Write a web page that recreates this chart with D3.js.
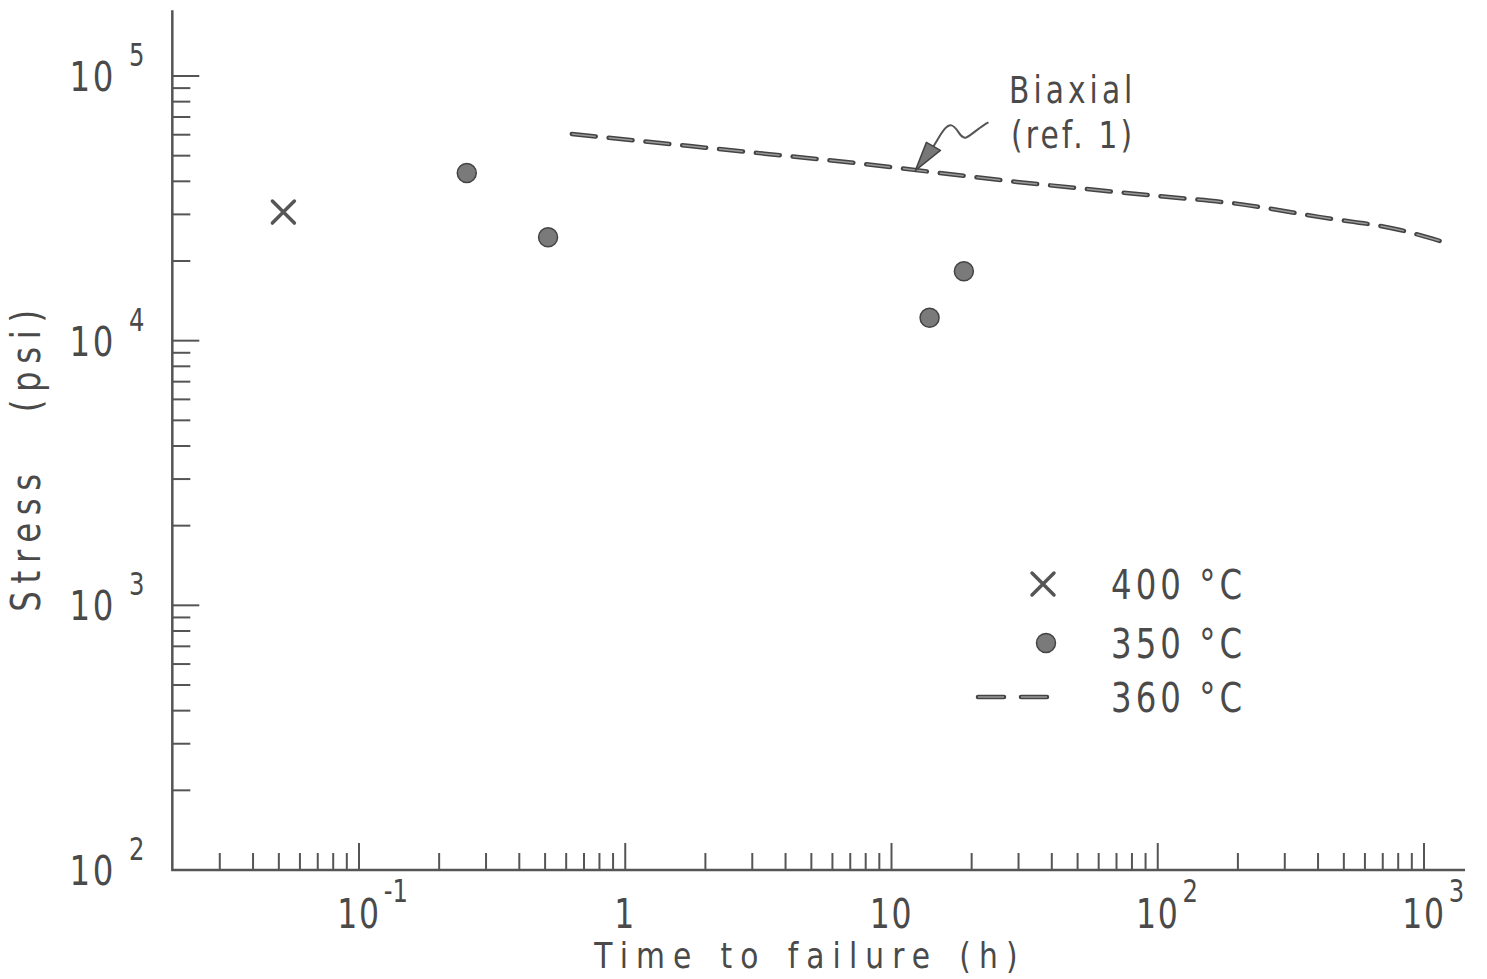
<!DOCTYPE html>
<html>
<head>
<meta charset="utf-8">
<script src="https://cdn.jsdelivr.net/npm/d3@7"></script>
<style>
  body { margin: 0; background: #fff; }
  text { font-family: "DejaVu Sans", sans-serif; fill: #4a4a4a; }
</style>
</head>
<body>
<svg class="chart"></svg>
<script>
// data
var crossTime = [0.052];                        // 400 °C
var crossStress = [30600];
var dotTime = [0.254, 0.513, 13.9, 18.7];       // 350 °C
var dotStress = [43000, 24600, 12200, 18300];
var biaxTime = [0.63, 2, 7.3, 29.6, 100, 204, 407, 813, 1150];        // 360 °C, biaxial (ref. 1)
var biaxStress = [60400, 53600, 46900, 39800, 35200, 32800, 29300, 26200, 23800];

// tick labels
var xTickValues = [0.1, 1, 10, 100, 1000];
var xTickBase = ["10", "1", "10", "10", "10"];
var xTickExp = ["-1", "", "", "2", "3"];
var yTickValues = [100, 1000, 10000, 100000];
var yTickBase = ["10", "10", "10", "10"];
var yTickExp = ["2", "3", "4", "5"];

var legendLabels = ["400 °C", "350 °C", "360 °C"];

var width = 1487, height = 979;
var ink = "#555";
var sx = 0.9, sy = 1.15;   // lettering is a bit narrow and tall

// scales
var x = d3.scaleLog().domain([0.1, 1000]).range([359, 1424]);
var y = d3.scaleLog().domain([100, 100000]).range([870, 76]);
var xMin = 0.0199, xMax = 1426, yMax = 177000;

var chart = d3.select(".chart")
  .attr("width", width)
  .attr("height", height);

// text helper, squeezed lettering
function label(px, py, str, size, anchor, ls, ws, rot, vy) {
  return chart.append("text")
    .attr("transform", "translate(" + px + "," + py + ")" + (rot ? " rotate(" + rot + ")" : "") +
                       " scale(" + sx + "," + (vy || sy) + ")")
    .attr("text-anchor", anchor || "start")
    .style("font-size", size + "px")
    .style("letter-spacing", (ls || 0) + "px")
    .style("word-spacing", (ws || 0) + "px")
    .text(str);
}

// axes frame (left and bottom only)
chart.append("path")
  .attr("d", "M" + x(xMin) + "," + y(yMax) + "V" + y(100) + "H" + x(xMax))
  .attr("fill", "none")
  .attr("stroke", ink)
  .attr("stroke-width", 2.5);

// minor and major ticks
var xTicks = [], yTicks = [];
[0.01, 0.1, 1, 10, 100, 1000].forEach(function(d) {
  for (var k = 1; k < 10; k++) {
    var v = d * k;
    if (v > 0.025 && v <= xMax) xTicks.push({v: v, major: k === 1});
  }
});
[100, 1000, 10000, 100000].forEach(function(d) {
  for (var k = 1; k < 10; k++) {
    var v = d * k;
    if (v > 100 && v <= yMax) yTicks.push({v: v, major: k === 1});
  }
});

chart.append("g").selectAll("line")
  .data(xTicks)
  .enter().append("line")
  .attr("x1", function(d) { return x(d.v); })
  .attr("x2", function(d) { return x(d.v); })
  .attr("y1", y(100))
  .attr("y2", function(d) { return y(100) - (d.major ? 27 : 17); })
  .attr("stroke", ink)
  .attr("stroke-width", 2);

chart.append("g").selectAll("line")
  .data(yTicks)
  .enter().append("line")
  .attr("y1", function(d) { return y(d.v); })
  .attr("y2", function(d) { return y(d.v); })
  .attr("x1", x(xMin))
  .attr("x2", function(d) { return x(xMin) + (d.major ? 27 : 18); })
  .attr("stroke", ink)
  .attr("stroke-width", 2);

// x tick labels: base centred on tick, exponent to the right
xTickValues.forEach(function(v, i) {
  var base = label(x(v), 928, xTickBase[i], 35, "middle", 2);
  if (xTickExp[i]) {
    var w = base.node().getComputedTextLength() * sx;
    label(x(v) + w / 2 + 3, 902, xTickExp[i], 27);
  }
});

// y tick labels
yTickValues.forEach(function(v, i) {
  label(116, y(v) + 15, yTickBase[i], 36, "end", 3);
  label(129, y(v) - 10, yTickExp[i], 27);
});

// axis titles
label(810, 968, "Time to failure (h)", 33, "middle", 9, 4, 0, 1.1);
label(40, 457, "Stress (psi)", 36, "middle", 8.5, 40, -90);

// biaxial dashed curve, dark rim with lighter core
var line = d3.line()
  .x(function(d) { return x(d[0]); })
  .y(function(d) { return y(d[1]); })
  .curve(d3.curveMonotoneX);

var biax = d3.zip(biaxTime, biaxStress);
chart.append("path")
  .datum(biax)
  .attr("d", line)
  .attr("fill", "none")
  .attr("stroke", "#444")
  .attr("stroke-width", 4.5)
  .attr("stroke-linecap", "round")
  .attr("stroke-dasharray", "24,13");
chart.append("path")
  .datum(biax)
  .attr("d", line)
  .attr("fill", "none")
  .attr("stroke", "#9a9a9a")
  .attr("stroke-width", 1.5)
  .attr("stroke-dasharray", "24,13");

// 400 °C crosses
function cross(cx, cy, s) {
  chart.append("path")
    .attr("d", "M" + (cx - s) + "," + (cy - s) + "L" + (cx + s) + "," + (cy + s) +
               "M" + (cx - s) + "," + (cy + s) + "L" + (cx + s) + "," + (cy - s))
    .attr("stroke", ink)
    .attr("stroke-width", 3.5)
    .attr("stroke-linecap", "round");
}
d3.zip(crossTime, crossStress).forEach(function(d) {
  cross(x(d[0]), y(d[1]), 11);
});

// 350 °C dots
chart.append("g").selectAll("circle")
  .data(d3.zip(dotTime, dotStress))
  .enter().append("circle")
  .attr("cx", function(d) { return x(d[0]); })
  .attr("cy", function(d) { return y(d[1]); })
  .attr("r", 9.5)
  .attr("fill", "#7a7a7a")
  .attr("stroke", "#444")
  .attr("stroke-width", 1.5);

// annotation with wavy arrow pointing at the curve
var tipX = x(12.3), tipY = y(44000);
function pt(dx, dy) { return (tipX + dx) + "," + (tipY + dy); }
chart.append("path")
  .attr("d", "M" + pt(18, -24) +
             "C" + pt(25, -35) + " " + pt(30, -46) + " " + pt(36, -45) +
             "C" + pt(42, -44) + " " + pt(45, -30) + " " + pt(51, -33) +
             "C" + pt(57, -36) + " " + pt(65, -44) + " " + pt(73, -48))
  .attr("fill", "none")
  .attr("stroke", ink)
  .attr("stroke-width", 2);
chart.append("path")
  .attr("d", "M" + pt(0, 0) + "L" + pt(11, -28) + "L" + pt(25, -20) + "Z")
  .attr("fill", "#777")
  .attr("stroke", "#444")
  .attr("stroke-width", 1.5)
  .attr("stroke-linejoin", "round");

label(1009, 103, "Biaxial", 33, "start", 4.5);
label(1011, 148, "(ref. 1)", 33, "start", 3.5);

// legend
var legendY = [584, 643, 697];
cross(1043, legendY[0], 11);
chart.append("circle")
  .attr("cx", 1046).attr("cy", legendY[1]).attr("r", 9.5)
  .attr("fill", "#7a7a7a").attr("stroke", "#444").attr("stroke-width", 1.5);
chart.append("line")
  .attr("x1", 978).attr("x2", 1049).attr("y1", legendY[2]).attr("y2", legendY[2])
  .attr("stroke", "#444").attr("stroke-width", 4.5)
  .attr("stroke-linecap", "round").attr("stroke-dasharray", "26,17");
chart.append("line")
  .attr("x1", 978).attr("x2", 1049).attr("y1", legendY[2]).attr("y2", legendY[2])
  .attr("stroke", "#9a9a9a").attr("stroke-width", 1.5)
  .attr("stroke-dasharray", "26,17");

legendLabels.forEach(function(t, i) {
  label(1111, legendY[i] + 15, t, 36, "start", 4.5);
});
</script>
</body>
</html>
